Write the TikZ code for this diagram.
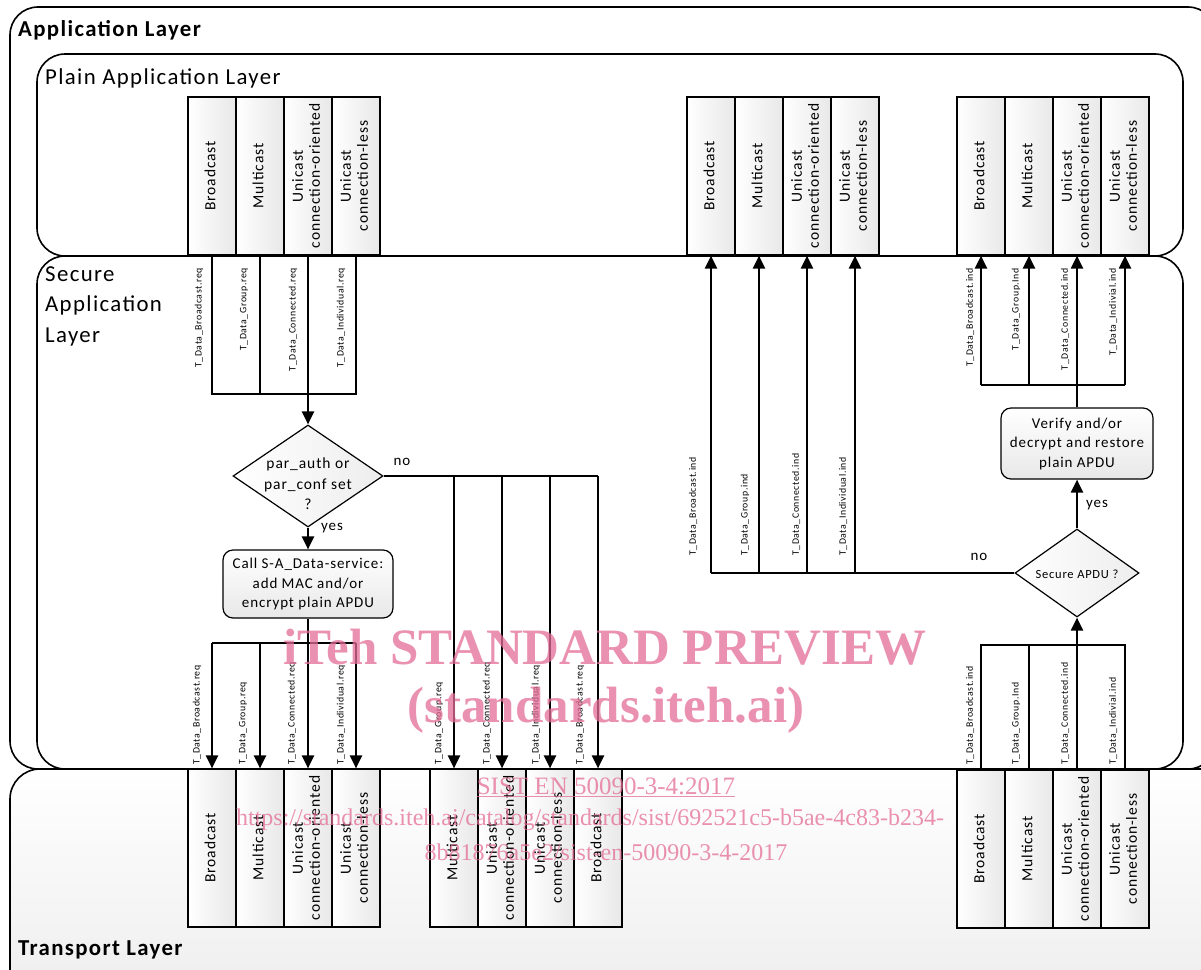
\documentclass[tikz,border=0pt]{standalone}
\usepackage{fontspec}
\setmainfont{Carlito}[LetterSpace=6]
\newfontfamily\wmfont{Liberation Serif}
\usepackage{graphicx}
\usetikzlibrary{arrows.meta,shapes.geometric}
\newcommand\rtxt[1]{\rotatebox{90}{\begin{tabular}{@{}c@{}}#1\end{tabular}}}
\definecolor{wmpink}{RGB}{228,108,150}
\tikzset{
  layer/.style={draw, line width=1.6pt, rounded corners=28pt},
  title/.style={anchor=west, inner sep=0pt, font=\fontsize{22.8}{30.5}\selectfont, align=left},
  btitle/.style={anchor=west, inner sep=0pt, font=\bfseries\fontsize{22.8}{25}\selectfont},
  svc/.style={draw, line width=1.2pt, left color=white, right color=gray!18, minimum width=48pt, minimum height=158pt, inner sep=0pt, font=\fontsize{15.5}{17}\selectfont},
  proc/.style={draw, line width=1.2pt, rounded corners=10pt, top color=white, bottom color=gray!18, inner sep=0pt, align=center, font=\fontsize{15}{19.5}\selectfont},
  dec/.style={draw, diamond, line width=1.2pt, left color=white, right color=gray!14, inner sep=0pt},
  dtxt/.style={inner sep=0pt, align=center},
  conn/.style={line width=2.2pt},
  arr/.style={line width=2.2pt, -{Triangle[width=12pt,length=13pt]}},
  lbl/.style={rotate=90, inner sep=0pt, font=\fontsize{9.8}{11}\selectfont},
  yn/.style={inner sep=0pt, font=\fontsize{15}{17}\selectfont},
  wm/.style={inner sep=0pt, text=wmpink, text opacity=0.75},
}
\begin{document}
\begin{tikzpicture}[x=1pt,y=-1pt]
\useasboundingbox (0,0) rectangle (1201,969);

% layers
\draw[layer, fill=white] (10,7) rectangle (1216,769);
\draw[layer, fill=white] (37,54) rectangle (1183,256);
\draw[layer, fill=white] (37,256) rectangle (1183,769);
\draw[layer, rounded corners=30pt, top color=white, bottom color=gray!14] (10,769) rectangle (1230,1010);

\node[btitle] (tapp) at (18,30) {Application Layer};
\node[title] (tplain) at (45,78) {Plain Application Layer};
\node[title, anchor=north west] (tsec) at (45,266) {Secure\\Application\\Layer};
\node[btitle] (ttr) at (18,950) {Transport Layer};

% plain application layer service boxes
\node[svc] (pa1) at (212,176) {\rtxt{Broadcast}};
\node[svc] (pa2) at (260,176) {\rtxt{Multicast}};
\node[svc] (pa3) at (308,176) {\rtxt{Unicast\\connection-oriented}};
\node[svc] (pa4) at (356,176) {\rtxt{Unicast\\connection-less}};

\node[svc] (pb1) at (711,176) {\rtxt{Broadcast}};
\node[svc] (pb2) at (759,176) {\rtxt{Multicast}};
\node[svc] (pb3) at (807,176) {\rtxt{Unicast\\connection-oriented}};
\node[svc] (pb4) at (855,176) {\rtxt{Unicast\\connection-less}};

\node[svc] (pc1) at (981,176) {\rtxt{Broadcast}};
\node[svc] (pc2) at (1029,176) {\rtxt{Multicast}};
\node[svc] (pc3) at (1077,176) {\rtxt{Unicast\\connection-oriented}};
\node[svc] (pc4) at (1125,176) {\rtxt{Unicast\\connection-less}};

% transport layer service boxes
\node[svc] (ta1) at (212,848) {\rtxt{Broadcast}};
\node[svc] (ta2) at (260,848) {\rtxt{Multicast}};
\node[svc] (ta3) at (308,848) {\rtxt{Unicast\\connection-oriented}};
\node[svc] (ta4) at (356,848) {\rtxt{Unicast\\connection-less}};

\node[svc] (tb1) at (454,848) {\rtxt{Multicast}};
\node[svc] (tb2) at (502,848) {\rtxt{Unicast\\connection-oriented}};
\node[svc] (tb3) at (550,848) {\rtxt{Unicast\\connection-less}};
\node[svc] (tb4) at (598,848) {\rtxt{Broadcast}};

\node[svc] (tc1) at (981,849) {\rtxt{Broadcast}};
\node[svc] (tc2) at (1029,849) {\rtxt{Multicast}};
\node[svc] (tc3) at (1077,849) {\rtxt{Unicast\\connection-oriented}};
\node[svc] (tc4) at (1125,849) {\rtxt{Unicast\\connection-less}};

% decision and process nodes
\node[dec, minimum width=150pt, minimum height=102pt] (d1) at (308,476) {};
\node[dtxt, font=\fontsize{15.5}{20.5}\selectfont] (d1t) at (308,484) {par\_auth or\\par\_conf set\\?};
\node[proc, minimum width=170pt, minimum height=68pt] (call) at (308,584) {Call S-A\_Data-service:\\add MAC and/or\\encrypt plain APDU};

\node[dec, minimum width=124pt, minimum height=88pt] (d2) at (1077,573) {};
\node[dtxt, font=\fontsize{12.5}{14}\selectfont] (d2t) at (1077,574) {Secure APDU ?};
\node[proc, minimum width=152pt, minimum height=71pt] (ver) at (1077,443.5) {Verify and/or\\decrypt and restore\\plain APDU};

\coordinate (mA) at (308,394);
\coordinate (mB) at (308,643);
\coordinate (mC) at (1077,385);
\coordinate (mD) at (1077,645);

% left, sending side
\draw[conn] (pa1.south) -- (pa1.south |- mA) -- (pa4.south |- mA) -- (pa4.south);
\draw[conn] (pa2.south) -- (pa2.south |- mA);
\draw[arr] (pa3.south) -- (d1.north);
\draw[arr] (d1.south) -- (call.north);
\draw[conn] (call.south) -- (mB);
\draw[conn] (ta1.north |- mB) -- (ta4.north |- mB);
\foreach \i in {1,...,4} {\draw[arr] (ta\i.north |- mB) -- (ta\i.north);}
\draw[conn] (d1.east) -- (tb4.north |- d1.east);
\foreach \i in {1,...,4} {\draw[arr] (tb\i.north |- d1.east) -- (tb\i.north);}

% right, receiving side
\draw[conn] (tc1.north) -- (tc1.north |- mD) -- (tc4.north |- mD) -- (tc4.north);
\draw[conn] (tc2.north) -- (tc2.north |- mD);
\draw[arr] (tc3.north) -- (d2.south);
\draw[arr] (d2.north) -- (ver.south);
\draw[conn] (ver.north) -- (mC);
\draw[conn] (pc1.south |- mC) -- (pc4.south |- mC);
\foreach \i in {1,...,4} {\draw[arr] (pc\i.south |- mC) -- (pc\i.south);}
\draw[conn] (d2.west) -- (pb1.south |- d2.west);
\foreach \i in {1,...,4} {\draw[arr] (pb\i.south |- d2.west) -- (pb\i.south);}

% yes / no labels
\node[yn] (no1) at (402,462) {no};
\node[yn] (yes1) at (332,528) {yes};
\node[yn] (no2) at (979,557) {no};
\node[yn] (yes2) at (1097,505) {yes};

% primitive labels
\node[lbl, anchor=east] (l1) at (199,268) {T\_Data\_Broadcast.req};
\node[lbl, anchor=east] (l2) at (244,268) {T\_Data\_Group.req};
\node[lbl, anchor=east] (l3) at (293,268) {T\_Data\_Connected.req};
\node[lbl, anchor=east] (l4) at (341,268) {T\_Data\_Individual.req};

\node[lbl, anchor=east] (r1) at (970,268) {T\_Data\_Broadcast.ind};
\node[lbl, anchor=east] (r2) at (1016,268) {T\_Data\_Group.Ind};
\node[lbl, anchor=east] (r3) at (1065,268) {T\_Data\_Connected.ind};
\node[lbl, anchor=east] (r4) at (1113,268) {T\_Data\_Indivial.ind};

\node[lbl, anchor=west] (m1) at (693,556) {T\_Data\_Broadcast.ind};
\node[lbl, anchor=west] (m2) at (745,556) {T\_Data\_Group.ind};
\node[lbl, anchor=west] (m3) at (796,556) {T\_Data\_Connected.ind};
\node[lbl, anchor=west] (m4) at (843,556) {T\_Data\_Individual.ind};

\node[lbl, anchor=west] (b1) at (197,765) {T\_Data\_Broadcast.req};
\node[lbl, anchor=west] (b2) at (243,765) {T\_Data\_Group.req};
\node[lbl, anchor=west] (b3) at (292,765) {T\_Data\_Connected.req};
\node[lbl, anchor=west] (b4) at (341,765) {T\_Data\_Individual.req};

\node[lbl, anchor=west] (b5) at (439,765) {T\_Data\_Group.req};
\node[lbl, anchor=west] (b6) at (487,765) {T\_Data\_Connected.req};
\node[lbl, anchor=west] (b7) at (536,765) {T\_Data\_Individual.req};
\node[lbl, anchor=west] (b8) at (580,765) {T\_Data\_Broadcast.req};

\node[lbl, anchor=west] (s1) at (970,765) {T\_Data\_Broadcast.ind};
\node[lbl, anchor=west] (s2) at (1016,765) {T\_Data\_Group.Ind};
\node[lbl, anchor=west] (s3) at (1065,765) {T\_Data\_Connected.ind};
\node[lbl, anchor=west] (s4) at (1113,765) {T\_Data\_Indivial.ind};

% watermark
\node[wm, font=\wmfont\bfseries\fontsize{51}{55}\selectfont] (wm1) at (605,647) {iTeh STANDARD PREVIEW};
\node[wm, font=\wmfont\bfseries\fontsize{51}{55}\selectfont] (wm2) at (606,710) {(standards.iteh.ai)};
\node[wm, font=\wmfont\fontsize{25}{28}\selectfont] (wm3) at (606,787) {\underline{SIST EN 50090-3-4:2017}};
\node[wm, font=\wmfont\fontsize{24}{28}\selectfont] (wm4) at (590,820) {https://standards.iteh.ai/catalog/standards/sist/692521c5-b5ae-4c83-b234-};
\node[wm, font=\wmfont\fontsize{24}{28}\selectfont] (wm5) at (606,852) {8b81876a5e2/sist-en-50090-3-4-2017};
\end{tikzpicture}
\end{document}
